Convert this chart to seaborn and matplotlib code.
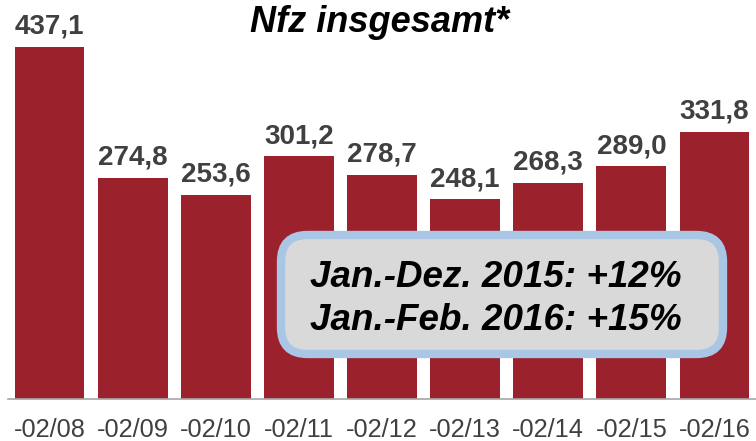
import matplotlib
matplotlib.use("Agg")
import matplotlib.pyplot as plt
from matplotlib.patches import FancyBboxPatch
import seaborn as sns
import pandas as pd

periods = ["-02/08", "-02/09", "-02/10", "-02/11", "-02/12", "-02/13", "-02/14", "-02/15", "-02/16"]
values = [437.1, 274.8, 253.6, 301.2, 278.7, 248.1, 268.3, 289.0, 331.8]
value_labels = ["437,1", "274,8", "253,6", "301,2", "278,7", "248,1", "268,3", "289,0", "331,8"]
title = "Nfz insgesamt*"
note_lines = ["Jan.-Dez. 2015: +12%", "Jan.-Feb. 2016: +15%"]

sns.set_style("white")
plt.rcParams["font.family"] = ["Liberation Sans", "DejaVu Sans"]

df = pd.DataFrame({"period": periods, "value": values})

W, H = 756, 441
fig = plt.figure(figsize=(W / 100, H / 100), dpi=100)
ax = fig.add_axes([8 / W, 42 / H, 748 / W, 399 / H])

sns.barplot(data=df, x="period", y="value", color="#9B212D", saturation=1,
            width=0.84, ax=ax)
for p in ax.patches:
    p.set_edgecolor("none")

ax.set_ylim(0, 495.5)
ax.set_xlim(-0.5, len(periods) - 0.5)
ax.set_xlabel("")
ax.set_ylabel("")
ax.set_yticks([])
for side in ["top", "right", "left"]:
    ax.spines[side].set_visible(False)
ax.spines["bottom"].set_color("#A6A6A6")
ax.spines["bottom"].set_linewidth(1.2)
ax.tick_params(axis="x", length=0, pad=14, labelsize=18.3, labelcolor="#404040")

for i, (v, lab) in enumerate(zip(values, value_labels)):
    ax.annotate(lab, (i, v), xytext=(0, 9.5), textcoords="offset points",
                ha="center", va="baseline", fontsize=20, fontweight="bold",
                color="#404040")

fig.text(380 / W, 1 - 32 / H, title, ha="center", va="baseline", fontsize=26,
         fontweight="bold", fontstyle="italic", color="black")

box = FancyBboxPatch((281 / W, 1 - 354 / H), 442 / W, 119 / H,
                     boxstyle="round,pad=0,rounding_size=0.035",
                     transform=fig.transFigure, facecolor="#D9D9D9",
                     edgecolor="#A9C6E4", linewidth=6, mutation_aspect=W / H)
fig.patches.append(box)
fig.text(496 / W, 1 - 287 / H, note_lines[0], ha="center", va="baseline",
         fontsize=26.5, fontweight="bold", fontstyle="italic", color="black")
fig.text(496 / W, 1 - 330 / H, note_lines[1], ha="center", va="baseline",
         fontsize=26.5, fontweight="bold", fontstyle="italic", color="black")

fig.savefig("out.png", dpi=100)
